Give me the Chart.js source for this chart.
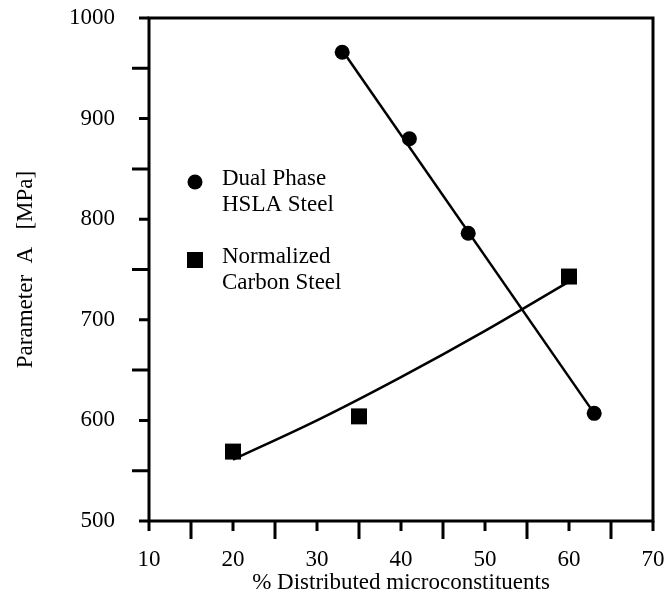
<!DOCTYPE html>
<html>
<head>
<meta charset="utf-8">
<script src="https://cdn.jsdelivr.net/npm/chart.js@4.4.1/dist/chart.umd.min.js"></script>
<style>
  html, body { margin: 0; padding: 0; background: #fff; }
  #wrap { width: 667px; height: 597px; }
</style>
</head>
<body>
<div id="wrap"><canvas id="chart"></canvas></div>
<script>
// Dual phase HSLA steel
const dualX = [33, 41, 48, 63];
const dualY = [966, 880, 786, 607];
// straight trend line for the dual phase steel
const dualFitX = [33, 63];
const dualFitY = [968, 607];

// Normalized carbon steel
const carbonX = [20, 35, 60];
const carbonY = [569, 604, 743];
// curved trend line for the carbon steel
const carbonFitX = [20, 30, 40, 50, 60];
const carbonFitY = [561, 600, 643, 689, 738];

const legendLabels = [['Dual Phase', 'HSLA Steel'], ['Normalized', 'Carbon Steel']];
const xTitle = '% Distributed microconstituents';
const yTitle = 'Parameter  A   [MPa]';

const FONT = '"Liberation Serif", "Times New Roman", serif';
const INK = '#000';

function pairs(xs, ys) {
    return xs.map((x, i) => ({ x: x, y: ys[i] }));
}

// box around the plot, outward tick marks (long at the half steps) and the legend
const framePlugin = {
    id: 'frame',
    afterDraw(chart) {
        const ctx = chart.ctx;
        const area = chart.chartArea;
        const xs = chart.scales.x;
        const ys = chart.scales.y;
        ctx.save();
        ctx.strokeStyle = INK;
        ctx.lineWidth = 3;
        ctx.strokeRect(area.left, area.top, area.right - area.left, area.bottom - area.top);

        ctx.beginPath();
        for (let v = xs.min; v <= xs.max; v += 5) {
            const px = xs.getPixelForValue(v);
            const len = v % 10 === 0 ? 10 : 18;
            ctx.moveTo(px, area.bottom);
            ctx.lineTo(px, area.bottom + len);
        }
        for (let v = ys.min; v <= ys.max; v += 50) {
            const py = ys.getPixelForValue(v);
            const len = v % 100 === 0 ? 10 : 17;
            ctx.moveTo(area.left, py);
            ctx.lineTo(area.left - len, py);
        }
        ctx.stroke();

        // legend inside the plot area
        const markers = [chart.data.datasets[0], chart.data.datasets[2]];
        const lx = area.left + 46;
        const rows = [area.top + 164, area.top + 242];
        ctx.font = '23px ' + FONT;
        ctx.textAlign = 'left';
        ctx.textBaseline = 'alphabetic';
        markers.forEach((ds, i) => {
            ctx.fillStyle = INK;
            Chart.helpers.drawPoint(ctx, {
                pointStyle: ds.pointStyle,
                radius: ds.pointRadius,
                rotation: 0,
                borderWidth: 0
            }, lx, rows[i]);
            legendLabels[i].forEach((line, j) => {
                ctx.fillText(line, lx + 27, rows[i] + 3 + j * 26);
            });
        });
        ctx.restore();
    }
};

new Chart(document.getElementById('chart'), {
    type: 'scatter',
    data: {
        datasets: [
            {
                label: legendLabels[0].join(' '),
                data: pairs(dualX, dualY),
                pointStyle: 'circle',
                pointRadius: 7.5,
                backgroundColor: INK,
                borderWidth: 0,
                showLine: false
            },
            {
                label: 'dual fit',
                data: pairs(dualFitX, dualFitY),
                showLine: true,
                borderColor: INK,
                borderWidth: 2.5,
                pointRadius: 0
            },
            {
                label: legendLabels[1].join(' '),
                data: pairs(carbonX, carbonY),
                pointStyle: 'rect',
                pointRadius: 11.3,
                backgroundColor: INK,
                borderWidth: 0,
                showLine: false
            },
            {
                label: 'carbon fit',
                data: pairs(carbonFitX, carbonFitY),
                showLine: true,
                borderColor: INK,
                borderWidth: 2.5,
                pointRadius: 0,
                cubicInterpolationMode: 'monotone'
            }
        ]
    },
    options: {
        responsive: true,
        maintainAspectRatio: false,
        animation: false,
        layout: { padding: { top: 18, right: 14, left: 0, bottom: 0 } },
        plugins: {
            legend: { display: false },
            tooltip: { enabled: false }
        },
        scales: {
            x: {
                type: 'linear',
                min: 10,
                max: 70,
                grid: { display: false },
                border: { display: false },
                ticks: {
                    stepSize: 10,
                    padding: 17,
                    color: INK,
                    maxRotation: 0,
                    autoSkip: false,
                    font: { family: FONT, size: 23 },
                    callback: v => String(v)
                },
                title: {
                    display: true,
                    text: xTitle,
                    color: INK,
                    padding: { top: 0, bottom: 0 },
                    font: { family: FONT, size: 23 }
                },
                afterFit(scale) {
                    scale.height = 76;
                    scale.paddingLeft = 0;
                    scale.paddingRight = 0;
                }
            },
            y: {
                type: 'linear',
                min: 500,
                max: 1000,
                grid: { display: false },
                border: { display: false },
                ticks: {
                    stepSize: 100,
                    padding: 26,
                    color: INK,
                    autoSkip: false,
                    font: { family: FONT, size: 23 },
                    callback: v => String(v)
                },
                title: {
                    display: true,
                    text: yTitle,
                    color: INK,
                    padding: { top: 12, bottom: 0 },
                    font: { family: FONT, size: 23 }
                },
                afterFit(scale) {
                    scale.width = 149;
                    scale.paddingTop = 0;
                    scale.paddingBottom = 0;
                }
            }
        }
    },
    plugins: [framePlugin]
});
</script>
</body>
</html>
